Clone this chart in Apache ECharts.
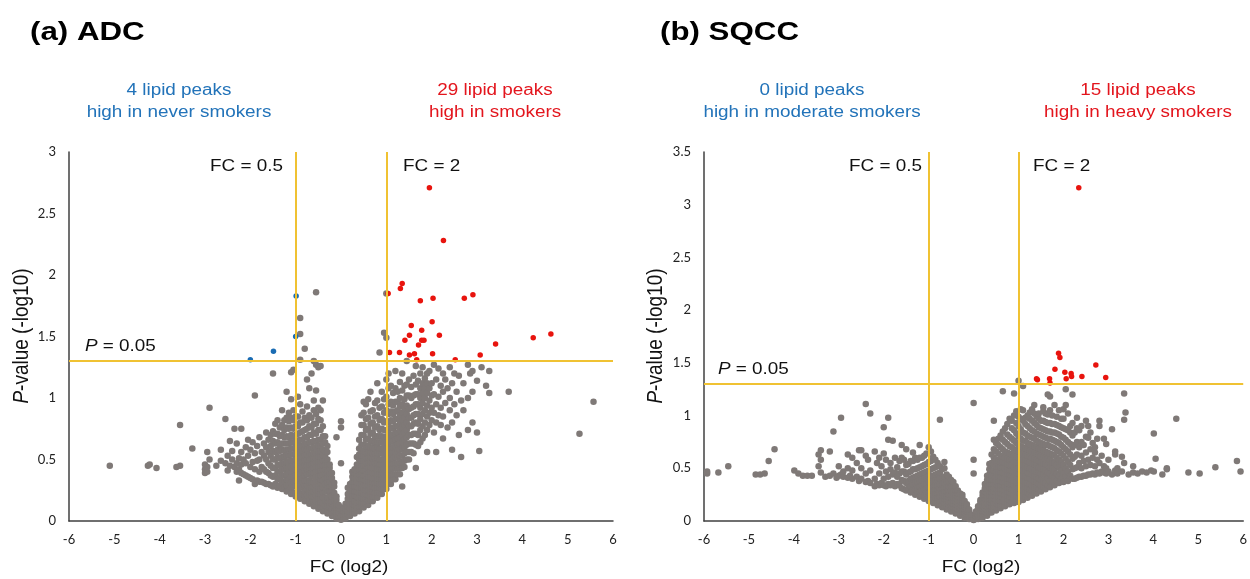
<!DOCTYPE html>
<html>
<head>
<meta charset="utf-8">
<script src="https://cdn.jsdelivr.net/npm/echarts@6/dist/echarts.min.js"></script>
<style>
  html, body { margin: 0; padding: 0; background: #ffffff; }
  #chart { width: 1250px; height: 579px; }
</style>
</head>
<body>
<div id="chart"></div>
<script>
// ---- Volcano plot data: FC (log2) vs P-value (-log10) ----

// Axis ticks
const xTicks = [-6, -5, -4, -3, -2, -1, 0, 1, 2, 3, 4, 5, 6];
const yMaxA = 3;
const yMaxB = 3.5;

// Cut-offs: FC = 0.5 / FC = 2 (log2 = -1 / 1) and P = 0.05
const fcCuts = [-1, 1];
const pCut = 1.301;

// (a) ADC: lipid peaks high in smokers (29)
const redA = [
  [1.95, 2.71], [2.26, 2.28], [1.35, 1.93], [1.31, 1.89], [1.04, 1.85], [2.03, 1.81],
  [1.75, 1.79], [2.72, 1.81], [2.91, 1.84], [2.01, 1.62], [1.55, 1.59], [1.78, 1.55],
  [1.51, 1.51], [2.17, 1.51], [1.41, 1.47], [1.78, 1.47], [1.83, 1.47], [1.71, 1.43],
  [3.41, 1.44], [4.24, 1.49], [4.63, 1.52], [1.07, 1.37], [1.29, 1.37], [1.51, 1.35],
  [1.62, 1.36], [2.02, 1.36], [1.67, 1.31], [2.52, 1.31], [3.07, 1.35]
];
// (a) ADC: lipid peaks high in never smokers (4)
const blueA = [[-0.99, 1.83], [-1.0, 1.50], [-1.49, 1.38], [-2.0, 1.31]];

// (a) ADC: remaining peaks, grouped by FC column -> list of P-values
const grayColsA = [
  [-5.10, [0.45]], [-4.26, [0.45]], [-4.22, [0.46]], [-4.07, [0.43]], [-3.63, [0.44]],
  [-3.55, [0.45, 0.78]], [-3.28, [0.59]], [-3.00, [0.39, 0.42, 0.46]], [-2.95, [0.4, 0.44, 0.56]],
  [-2.90, [0.5, 0.92]], [-2.75, [0.45]], [-2.65, [0.49, 0.58]], [-2.55, [0.47, 0.83]],
  [-2.50, [0.53, 0.41]], [-2.45, [0.45, 0.65]], [-2.40, [0.5, 0.57]], [-2.35, [0.44, 0.75]],
  [-2.30, [0.4, 0.47, 0.63]], [-2.25, [0.33, 0.42, 0.51]], [-2.20, [0.39, 0.46, 0.56, 0.75]],
  [-2.15, [0.38, 0.5]], [-2.10, [0.37, 0.47, 0.6]], [-2.05, [0.36, 0.53, 0.66]],
  [-2.00, [0.35, 0.44, 0.58]], [-1.95, [0.34, 0.48, 0.64]], [-1.90, [0.3, 0.42, 0.55, 1.02]],
  [-1.85, [0.33, 0.49, 0.61]], [-1.80, [0.32, 0.4, 0.5, 0.68]], [-1.75, [0.32, 0.44, 0.56]],
  [-1.70, [0.31, 0.42, 0.53, 0.63]], [-1.65, [0.3, 0.4, 0.5, 0.6, 0.72]], [-1.60, [0.3, 0.39, 0.47, 0.56, 0.66]],
  [-1.55, [0.29, 0.37, 0.45, 0.53, 0.61, 0.7]], [-1.50, [0.28, 0.36, 0.43, 0.5, 0.57, 0.65, 0.73, 1.2]],
  [-1.45, [0.3, 0.37, 0.43, 0.5, 0.56, 0.63, 0.71, 0.79]],
  [-1.40, [0.27, 0.34, 0.4, 0.46, 0.52, 0.58, 0.64, 0.71, 0.82]],
  [-1.35, [0.29, 0.35, 0.4, 0.45, 0.51, 0.57, 0.62, 0.69, 0.76]],
  [-1.30, [0.26, 0.31, 0.37, 0.42, 0.47, 0.52, 0.58, 0.63, 0.7, 0.78, 0.9]],
  [-1.25, [0.27, 0.32, 0.37, 0.42, 0.47, 0.52, 0.57, 0.63, 0.68, 0.74, 0.82]],
  [-1.20, [0.24, 0.29, 0.34, 0.38, 0.43, 0.48, 0.53, 0.58, 0.63, 0.69, 0.76, 0.84, 1.05]],
  [-1.15, [0.25, 0.3, 0.34, 0.39, 0.44, 0.48, 0.53, 0.58, 0.63, 0.68, 0.75, 0.81, 0.88]],
  [-1.10, [0.22, 0.27, 0.31, 0.36, 0.4, 0.44, 0.49, 0.54, 0.59, 0.64, 0.7, 0.76, 0.84, 0.99, 1.21]],
  [-1.05, [0.23, 0.28, 0.32, 0.36, 0.41, 0.45, 0.49, 0.54, 0.59, 0.64, 0.69, 0.75, 0.82, 0.9, 1.23]],
  [-1.00, [0.2, 0.23, 0.29, 0.33, 0.37, 0.42, 0.46, 0.5, 0.55, 0.6, 0.65, 0.7, 0.77, 0.85]],
  [-0.95, [0.21, 0.26, 0.29, 0.34, 0.38, 0.42, 0.47, 0.51, 0.55, 0.6, 0.65, 0.71, 0.77, 0.85, 1.01]],
  [-0.90, [0.18, 0.22, 0.27, 0.3, 0.35, 0.39, 0.43, 0.48, 0.52, 0.56, 0.61, 0.66, 0.72, 0.8, 0.95, 1.31, 1.52, 1.65]],
  [-0.85, [0.19, 0.22, 0.27, 0.32, 0.35, 0.4, 0.44, 0.48, 0.52, 0.57, 0.61, 0.66, 0.73, 0.8, 0.89]],
  [-0.80, [0.16, 0.21, 0.24, 0.29, 0.33, 0.37, 0.41, 0.45, 0.49, 0.53, 0.58, 0.62, 0.68, 0.74, 0.84, 1.4]],
  [-0.75, [0.17, 0.21, 0.26, 0.29, 0.33, 0.38, 0.42, 0.45, 0.5, 0.54, 0.58, 0.63, 0.68, 0.75, 0.82, 0.93, 1.15]],
  [-0.70, [0.14, 0.17, 0.22, 0.26, 0.31, 0.33, 0.38, 0.42, 0.46, 0.5, 0.54, 0.59, 0.64, 0.7, 0.77, 0.86, 1.08]],
  [-0.65, [0.15, 0.2, 0.23, 0.27, 0.31, 0.36, 0.39, 0.43, 0.46, 0.51, 0.54, 0.59, 0.64, 0.7, 0.76, 0.84, 1.2]],
  [-0.60, [0.12, 0.16, 0.2, 0.24, 0.28, 0.31, 0.36, 0.39, 0.43, 0.47, 0.51, 0.55, 0.6, 0.65, 0.72, 0.79, 0.9, 0.98, 1.3]],
  [-0.55, [0.13, 0.16, 0.21, 0.25, 0.29, 0.32, 0.36, 0.4, 0.44, 0.48, 0.51, 0.55, 0.6, 0.65, 0.71, 0.79, 0.87, 1.06, 1.27, 1.86]],
  [-0.50, [0.1, 0.15, 0.18, 0.22, 0.25, 0.28, 0.33, 0.36, 0.41, 0.44, 0.48, 0.52, 0.56, 0.61, 0.66, 0.74, 0.83, 0.92, 1.25]],
  [-0.45, [0.12, 0.15, 0.19, 0.22, 0.26, 0.31, 0.34, 0.37, 0.41, 0.45, 0.49, 0.52, 0.57, 0.61, 0.66, 0.74, 0.82, 0.9, 1.26]],
  [-0.40, [0.08, 0.12, 0.14, 0.19, 0.23, 0.27, 0.3, 0.33, 0.38, 0.42, 0.45, 0.49, 0.53, 0.58, 0.63, 0.69, 0.77, 0.98]],
  [-0.35, [0.09, 0.13, 0.17, 0.19, 0.24, 0.27, 0.3, 0.35, 0.39, 0.42, 0.46, 0.5, 0.53, 0.57, 0.64, 0.69]],
  [-0.30, [0.06, 0.08, 0.12, 0.17, 0.19, 0.24, 0.28, 0.31, 0.35, 0.39, 0.41, 0.46, 0.5, 0.56, 0.61]],
  [-0.25, [0.07, 0.11, 0.13, 0.17, 0.22, 0.25, 0.28, 0.32, 0.36, 0.39, 0.43, 0.46]],
  [-0.20, [0.04, 0.06, 0.1, 0.14, 0.16, 0.2, 0.25, 0.28, 0.3, 0.35, 0.39]],
  [-0.15, [0.04, 0.08, 0.11, 0.13, 0.17, 0.21, 0.23, 0.28, 0.31]],
  [-0.10, [0.02, 0.05, 0.07, 0.11, 0.13, 0.17, 0.2, 0.68]],
  [-0.05, [0.02, 0.04, 0.07, 0.1, 0.13]],
  [0.00, [0.01, 0.04, 0.47, 0.76, 0.81]],
  [0.05, [0.02, 0.05, 0.08, 0.11]],
  [0.10, [0.02, 0.05, 0.08, 0.1, 0.14]],
  [0.15, [0.05, 0.08, 0.12, 0.15, 0.18, 0.22, 0.27]],
  [0.20, [0.04, 0.07, 0.1, 0.14, 0.18, 0.21, 0.25, 0.3]],
  [0.25, [0.07, 0.11, 0.14, 0.18, 0.21, 0.25, 0.29, 0.32, 0.36, 0.4]],
  [0.30, [0.06, 0.1, 0.13, 0.16, 0.21, 0.24, 0.28, 0.32, 0.35, 0.39, 0.42]],
  [0.35, [0.09, 0.13, 0.17, 0.2, 0.24, 0.28, 0.31, 0.35, 0.39, 0.43, 0.46, 0.52]],
  [0.40, [0.08, 0.12, 0.16, 0.19, 0.23, 0.27, 0.31, 0.35, 0.38, 0.42, 0.46, 0.5, 0.54, 0.59, 0.66]],
  [0.45, [0.12, 0.15, 0.19, 0.23, 0.27, 0.3, 0.34, 0.38, 0.42, 0.46, 0.49, 0.53, 0.57, 0.62, 0.7, 0.78, 0.86]],
  [0.50, [0.11, 0.14, 0.18, 0.22, 0.26, 0.3, 0.34, 0.37, 0.41, 0.45, 0.49, 0.53, 0.57, 0.62, 0.7, 0.78, 0.88, 0.97]],
  [0.55, [0.14, 0.18, 0.22, 0.25, 0.29, 0.33, 0.37, 0.41, 0.45, 0.48, 0.52, 0.56, 0.61, 0.66, 0.74, 0.83, 0.95]],
  [0.60, [0.13, 0.17, 0.21, 0.25, 0.29, 0.33, 0.36, 0.4, 0.44, 0.48, 0.52, 0.56, 0.61, 0.67, 0.75, 0.84, 0.99]],
  [0.65, [0.17, 0.2, 0.24, 0.28, 0.32, 0.36, 0.4, 0.44, 0.48, 0.52, 0.56, 0.6, 0.65, 0.71, 0.79, 0.89, 1.05]],
  [0.70, [0.16, 0.2, 0.24, 0.28, 0.31, 0.35, 0.39, 0.43, 0.47, 0.51, 0.55, 0.6, 0.65, 0.72, 0.8, 0.9]],
  [0.75, [0.2, 0.23, 0.27, 0.31, 0.35, 0.39, 0.43, 0.47, 0.51, 0.55, 0.59, 0.64, 0.69, 0.76, 0.85, 0.96]],
  [0.80, [0.19, 0.23, 0.27, 0.31, 0.35, 0.39, 0.43, 0.47, 0.51, 0.55, 0.6, 0.64, 0.69, 0.77, 0.86, 0.98, 1.12]],
  [0.85, [0.23, 0.27, 0.3, 0.34, 0.38, 0.42, 0.46, 0.5, 0.55, 0.59, 0.64, 0.69, 0.74, 0.82, 0.92, 1.37]],
  [0.90, [0.22, 0.26, 0.3, 0.34, 0.38, 0.42, 0.46, 0.5, 0.55, 0.59, 0.64, 0.69, 0.75, 0.83, 0.93, 1.05]],
  [0.95, [0.26, 0.3, 0.34, 0.38, 0.42, 0.46, 0.5, 0.54, 0.59, 0.63, 0.68, 0.74, 0.8, 0.88, 0.99, 1.53]],
  [1.00, [0.26, 0.3, 0.34, 0.38, 0.42, 0.46, 0.5, 0.55, 0.59, 0.64, 0.69, 0.74, 0.81, 0.9, 1.01, 1.15, 1.49, 1.85]],
  [1.05, [0.3, 0.34, 0.38, 0.42, 0.46, 0.5, 0.55, 0.59, 0.64, 0.69, 0.74, 0.8, 0.87, 0.95, 1.08, 1.2]],
  [1.10, [0.3, 0.34, 0.38, 0.42, 0.47, 0.51, 0.55, 0.6, 0.65, 0.7, 0.76, 0.82, 0.89, 0.97, 1.1]],
  [1.15, [0.34, 0.38, 0.43, 0.47, 0.51, 0.56, 0.6, 0.65, 0.7, 0.75, 0.81, 0.87, 0.94, 1.04]],
  [1.20, [0.34, 0.38, 0.43, 0.47, 0.52, 0.56, 0.61, 0.66, 0.71, 0.77, 0.83, 0.89, 0.97, 1.08, 1.22]],
  [1.25, [0.38, 0.43, 0.47, 0.52, 0.57, 0.62, 0.67, 0.72, 0.77, 0.83, 0.9, 0.97, 1.05]],
  [1.30, [0.38, 0.43, 0.48, 0.53, 0.58, 0.63, 0.68, 0.74, 0.8, 0.86, 0.93, 1.0, 1.13]],
  [1.35, [0.28, 0.43, 0.48, 0.53, 0.59, 0.64, 0.7, 0.76, 0.82, 0.88, 0.95, 1.06, 1.2]],
  [1.40, [0.44, 0.49, 0.55, 0.6, 0.66, 0.72, 0.78, 0.84, 0.91, 0.99, 1.1]],
  [1.45, [0.5, 0.56, 0.62, 0.68, 0.74, 0.8, 0.87, 0.94, 1.02, 1.11, 1.3]],
  [1.50, [0.5, 0.56, 0.63, 0.7, 0.77, 0.84, 0.91, 1.02, 1.15]],
  [1.55, [0.56, 0.63, 0.7, 0.77, 0.84, 0.92, 1.0, 1.09]],
  [1.60, [0.55, 0.63, 0.71, 0.79, 0.86, 0.93, 1.02, 1.18]],
  [1.65, [0.43, 0.62, 0.71, 0.8, 0.87, 0.95, 1.03, 1.11, 1.26]],
  [1.70, [0.61, 0.7, 0.79, 0.87, 0.95, 1.03, 1.14]],
  [1.75, [0.64, 0.74, 0.83, 0.92, 1.0, 1.08, 1.2]],
  [1.80, [0.67, 0.77, 0.87, 0.96, 1.04, 1.12, 1.25]],
  [1.85, [0.7, 0.8, 0.9, 1.0, 1.08, 1.16]],
  [1.90, [0.56, 0.74, 0.85, 0.94, 1.04, 1.12, 1.2]],
  [1.95, [0.78, 0.88, 0.98, 1.08, 1.22]],
  [2.00, [0.82, 0.92, 1.02, 1.12]],
  [2.05, [0.72, 0.88, 1.03, 1.27]],
  [2.10, [0.56, 0.8, 0.95, 1.15]],
  [2.15, [0.86, 1.01, 1.24]],
  [2.20, [0.78, 0.92, 1.1]],
  [2.25, [0.67, 0.85, 1.05, 1.2]],
  [2.30, [0.96, 1.15]],
  [2.35, [0.76, 1.08]],
  [2.40, [0.9, 1.0, 1.25]],
  [2.45, [0.58, 0.8, 1.12]],
  [2.50, [0.95, 1.2]],
  [2.55, [0.86, 1.05]],
  [2.60, [0.7, 1.18]],
  [2.65, [0.52, 0.98]],
  [2.70, [0.9, 1.12]],
  [2.80, [0.74, 1.0, 1.27]],
  [2.85, [1.2]],
  [2.90, [0.8, 1.05, 1.22]],
  [3.00, [0.72, 1.14]],
  [3.05, [0.57]],
  [3.10, [1.25]],
  [3.20, [1.1]],
  [3.27, [1.04, 1.22]],
  [3.70, [1.05]],
  [5.26, [0.71]],
  [5.57, [0.97]]
];

// (b) SQCC: lipid peaks high in heavy smokers (15)
const redB = [
  [2.34, 3.16], [1.89, 1.59], [1.92, 1.55], [2.72, 1.48], [1.81, 1.44], [2.03, 1.41],
  [2.17, 1.40], [2.18, 1.37], [2.06, 1.35], [2.41, 1.37], [2.94, 1.36], [1.40, 1.35],
  [1.42, 1.34], [1.69, 1.35], [1.70, 1.31]
];
// (b) SQCC: lipid peaks high in moderate smokers (none)
const blueB = [];

// (b) SQCC: remaining peaks, grouped by FC column -> list of P-values
const grayColsB = [
  [-5.93, [0.45, 0.47]], [-5.68, [0.46]], [-5.46, [0.52]], [-4.85, [0.44]], [-4.75, [0.44]],
  [-4.65, [0.45]], [-4.56, [0.57]], [-4.43, [0.68]], [-3.99, [0.48]], [-3.90, [0.45]],
  [-3.80, [0.43]], [-3.70, [0.43]], [-3.60, [0.43]], [-3.45, [0.52, 0.63]], [-3.40, [0.46, 0.58, 0.67]],
  [-3.30, [0.42]], [-3.20, [0.43, 0.66]], [-3.12, [0.45, 0.85]], [-3.05, [0.41]], [-3.00, [0.43, 0.52]],
  [-2.95, [0.44, 0.98]], [-2.90, [0.42, 0.47]], [-2.80, [0.41, 0.5, 0.63]], [-2.75, [0.43]],
  [-2.70, [0.4, 0.48, 0.6]], [-2.60, [0.42, 0.55]], [-2.55, [0.38, 0.67]], [-2.50, [0.4, 0.5, 0.67]],
  [-2.40, [0.37, 0.45, 0.62, 1.11]], [-2.35, [0.38, 0.58]], [-2.30, [0.36, 0.48, 1.02]],
  [-2.20, [0.33, 0.4, 0.66]], [-2.15, [0.35, 0.55]], [-2.10, [0.34, 0.45, 0.6]], [-2.05, [0.36, 0.52]],
  [-2.00, [0.34, 0.4, 0.64, 0.89]], [-1.95, [0.33, 0.47, 0.58]], [-1.90, [0.35, 0.42, 0.77, 0.98]],
  [-1.85, [0.34, 0.49, 0.55]], [-1.80, [0.36, 0.44, 0.76]], [-1.75, [0.33, 0.46, 0.6]],
  [-1.70, [0.35, 0.42, 0.51]], [-1.65, [0.34, 0.45, 0.57]], [-1.60, [0.31, 0.39, 0.47, 0.6, 0.72]],
  [-1.55, [0.3, 0.38, 0.47, 0.58]], [-1.50, [0.29, 0.36, 0.44, 0.53, 0.68]], [-1.45, [0.31, 0.38, 0.46, 0.54]],
  [-1.40, [0.27, 0.33, 0.4, 0.47, 0.57]], [-1.35, [0.29, 0.35, 0.41, 0.49, 0.57, 0.65]],
  [-1.30, [0.25, 0.3, 0.36, 0.42, 0.49, 0.6]], [-1.25, [0.26, 0.31, 0.37, 0.43, 0.5, 0.58]],
  [-1.20, [0.23, 0.28, 0.33, 0.38, 0.44, 0.51, 0.6, 0.72]], [-1.15, [0.24, 0.29, 0.34, 0.39, 0.45, 0.52, 0.6]],
  [-1.10, [0.21, 0.25, 0.3, 0.35, 0.4, 0.46, 0.53, 0.62]], [-1.05, [0.22, 0.26, 0.31, 0.35, 0.41, 0.47, 0.54, 0.64]],
  [-1.00, [0.19, 0.23, 0.27, 0.32, 0.37, 0.42, 0.48, 0.56, 0.7]],
  [-0.95, [0.2, 0.24, 0.28, 0.33, 0.37, 0.43, 0.49, 0.57, 0.66]],
  [-0.90, [0.17, 0.21, 0.25, 0.29, 0.33, 0.38, 0.43, 0.5, 0.61]],
  [-0.85, [0.18, 0.22, 0.26, 0.3, 0.34, 0.39, 0.44, 0.51, 0.58]],
  [-0.80, [0.15, 0.19, 0.22, 0.26, 0.3, 0.34, 0.39, 0.45, 0.55]],
  [-0.75, [0.16, 0.19, 0.23, 0.27, 0.31, 0.35, 0.4, 0.46, 0.52, 0.96]],
  [-0.70, [0.13, 0.16, 0.2, 0.24, 0.27, 0.31, 0.35, 0.41, 0.49]],
  [-0.65, [0.14, 0.17, 0.21, 0.24, 0.28, 0.32, 0.36, 0.42, 0.5, 0.56]],
  [-0.60, [0.11, 0.14, 0.18, 0.21, 0.24, 0.28, 0.32, 0.37, 0.44]],
  [-0.55, [0.12, 0.15, 0.18, 0.22, 0.25, 0.29, 0.33, 0.38, 0.42]],
  [-0.50, [0.09, 0.12, 0.15, 0.18, 0.22, 0.25, 0.29, 0.33, 0.39]],
  [-0.45, [0.1, 0.13, 0.16, 0.19, 0.22, 0.26, 0.29, 0.33, 0.37]],
  [-0.40, [0.07, 0.1, 0.13, 0.16, 0.19, 0.22, 0.25, 0.29, 0.33]],
  [-0.35, [0.08, 0.11, 0.14, 0.17, 0.2, 0.23, 0.26, 0.29]],
  [-0.30, [0.05, 0.08, 0.11, 0.13, 0.16, 0.19, 0.22, 0.26]],
  [-0.25, [0.06, 0.09, 0.11, 0.14, 0.17, 0.2, 0.22, 0.25]],
  [-0.20, [0.03, 0.06, 0.08, 0.11, 0.14, 0.17, 0.19]],
  [-0.15, [0.04, 0.06, 0.09, 0.11, 0.14, 0.16]],
  [-0.10, [0.02, 0.04, 0.06, 0.09, 0.11]],
  [-0.05, [0.02, 0.04, 0.06]],
  [0.00, [0.01, 0.45, 0.58, 1.12]],
  [0.05, [0.02, 0.04, 0.07, 0.09]],
  [0.10, [0.02, 0.04, 0.06, 0.09, 0.12, 0.14]],
  [0.15, [0.04, 0.07, 0.09, 0.12, 0.15, 0.18, 0.2]],
  [0.20, [0.03, 0.06, 0.09, 0.12, 0.15, 0.18, 0.21, 0.24, 0.27]],
  [0.25, [0.06, 0.09, 0.12, 0.15, 0.18, 0.21, 0.24, 0.28, 0.31, 0.35]],
  [0.30, [0.05, 0.08, 0.11, 0.14, 0.17, 0.21, 0.24, 0.27, 0.31, 0.35, 0.39, 0.43]],
  [0.35, [0.08, 0.11, 0.14, 0.18, 0.21, 0.24, 0.28, 0.31, 0.35, 0.39, 0.44, 0.49, 0.54]],
  [0.40, [0.08, 0.11, 0.14, 0.17, 0.2, 0.24, 0.27, 0.31, 0.35, 0.39, 0.43, 0.48, 0.55, 0.63]],
  [0.45, [0.11, 0.14, 0.17, 0.21, 0.24, 0.28, 0.31, 0.35, 0.39, 0.43, 0.48, 0.53, 0.6, 0.68, 0.77, 0.95]],
  [0.50, [0.1, 0.13, 0.17, 0.2, 0.24, 0.27, 0.31, 0.35, 0.38, 0.42, 0.47, 0.52, 0.58, 0.66, 0.74]],
  [0.55, [0.13, 0.16, 0.2, 0.23, 0.27, 0.31, 0.34, 0.38, 0.42, 0.47, 0.52, 0.57, 0.64, 0.72, 0.78]],
  [0.60, [0.12, 0.15, 0.19, 0.23, 0.26, 0.3, 0.34, 0.38, 0.42, 0.46, 0.51, 0.56, 0.62, 0.7, 0.81]],
  [0.65, [0.15, 0.19, 0.22, 0.26, 0.3, 0.34, 0.37, 0.41, 0.46, 0.51, 0.56, 0.61, 0.68, 0.77, 0.85, 1.23]],
  [0.70, [0.14, 0.18, 0.21, 0.25, 0.29, 0.33, 0.37, 0.41, 0.45, 0.5, 0.55, 0.6, 0.66, 0.75, 0.88]],
  [0.75, [0.17, 0.21, 0.24, 0.28, 0.32, 0.36, 0.4, 0.45, 0.49, 0.54, 0.59, 0.65, 0.73, 0.82, 0.92]],
  [0.80, [0.16, 0.2, 0.23, 0.27, 0.31, 0.35, 0.4, 0.44, 0.48, 0.53, 0.58, 0.64, 0.71, 0.8, 0.97]],
  [0.85, [0.18, 0.22, 0.26, 0.3, 0.35, 0.39, 0.43, 0.48, 0.53, 0.58, 0.63, 0.7, 0.78, 0.88, 0.95]],
  [0.90, [0.17, 0.21, 0.25, 0.29, 0.34, 0.38, 0.42, 0.47, 0.51, 0.56, 0.62, 0.68, 0.76, 0.86, 1.0, 1.21]],
  [0.95, [0.19, 0.24, 0.28, 0.33, 0.37, 0.42, 0.46, 0.51, 0.56, 0.61, 0.67, 0.74, 0.83, 0.93, 1.04]],
  [1.00, [0.18, 0.22, 0.27, 0.31, 0.36, 0.4, 0.45, 0.5, 0.55, 0.6, 0.66, 0.72, 0.8, 0.9, 0.99, 1.33]],
  [1.05, [0.21, 0.26, 0.3, 0.35, 0.4, 0.44, 0.49, 0.54, 0.59, 0.65, 0.71, 0.78, 0.87, 0.97, 1.06]],
  [1.10, [0.2, 0.24, 0.29, 0.34, 0.38, 0.43, 0.48, 0.53, 0.58, 0.64, 0.7, 0.76, 0.84, 0.95, 1.05, 1.28]],
  [1.15, [0.23, 0.28, 0.33, 0.38, 0.43, 0.48, 0.53, 0.58, 0.63, 0.69, 0.76, 0.83, 0.92, 0.98]],
  [1.20, [0.22, 0.27, 0.31, 0.36, 0.41, 0.46, 0.51, 0.57, 0.62, 0.68, 0.74, 0.81, 0.9, 1.0]],
  [1.25, [0.25, 0.3, 0.35, 0.4, 0.45, 0.5, 0.56, 0.61, 0.67, 0.73, 0.8, 0.88, 0.97, 1.03]],
  [1.30, [0.24, 0.29, 0.34, 0.39, 0.44, 0.49, 0.55, 0.6, 0.66, 0.72, 0.79, 0.86, 0.95, 1.06]],
  [1.35, [0.27, 0.32, 0.38, 0.43, 0.48, 0.54, 0.59, 0.65, 0.71, 0.78, 0.85, 0.93, 1.02, 1.1]],
  [1.40, [0.26, 0.31, 0.37, 0.42, 0.47, 0.53, 0.58, 0.64, 0.7, 0.76, 0.83, 0.91, 0.99]],
  [1.45, [0.3, 0.35, 0.4, 0.46, 0.51, 0.57, 0.63, 0.69, 0.75, 0.82, 0.89, 0.97, 1.02]],
  [1.50, [0.28, 0.34, 0.39, 0.45, 0.5, 0.56, 0.62, 0.68, 0.74, 0.81, 0.88, 0.95]],
  [1.55, [0.32, 0.38, 0.44, 0.49, 0.55, 0.61, 0.67, 0.73, 0.8, 0.87, 0.95, 1.04, 1.08]],
  [1.60, [0.3, 0.36, 0.42, 0.48, 0.54, 0.6, 0.66, 0.72, 0.79, 0.86, 0.94, 1.02]],
  [1.65, [0.34, 0.4, 0.46, 0.53, 0.59, 0.65, 0.72, 0.78, 0.85, 0.93, 1.01, 1.2]],
  [1.70, [0.32, 0.38, 0.45, 0.51, 0.58, 0.64, 0.71, 0.78, 0.85, 0.93, 1.05, 1.18]],
  [1.75, [0.36, 0.43, 0.5, 0.56, 0.63, 0.7, 0.77, 0.84, 0.92, 1.0]],
  [1.80, [0.34, 0.41, 0.48, 0.55, 0.62, 0.69, 0.76, 0.84, 0.92, 1.1]],
  [1.85, [0.38, 0.45, 0.53, 0.6, 0.67, 0.75, 0.83, 0.91, 0.99]],
  [1.90, [0.36, 0.43, 0.51, 0.58, 0.66, 0.74, 0.82, 0.9, 1.05]],
  [1.95, [0.4, 0.48, 0.56, 0.64, 0.72, 0.8, 0.89, 0.97]],
  [2.00, [0.37, 0.45, 0.53, 0.62, 0.7, 0.79, 0.88, 0.97, 1.06]],
  [2.05, [0.42, 0.5, 0.59, 0.68, 0.77, 0.87, 1.1, 1.25]],
  [2.10, [0.38, 0.47, 0.56, 0.66, 0.75, 0.86, 1.02]],
  [2.15, [0.43, 0.53, 0.63, 0.73, 0.84, 0.9]],
  [2.20, [0.4, 0.49, 0.59, 0.7, 0.81, 0.93, 1.2]],
  [2.25, [0.4, 0.5, 0.61, 0.72, 0.84]],
  [2.30, [0.41, 0.51, 0.63, 0.75, 0.88, 0.98]],
  [2.35, [0.42, 0.55, 0.7, 0.86]],
  [2.40, [0.42, 0.5, 0.62, 0.75, 0.9]],
  [2.45, [0.43, 0.57, 0.72]],
  [2.50, [0.43, 0.52, 0.65, 0.8, 0.95]],
  [2.55, [0.44, 0.58, 0.79, 0.9]],
  [2.60, [0.44, 0.53, 0.68, 0.84]],
  [2.65, [0.45, 0.6, 0.74]],
  [2.70, [0.44, 0.52, 0.65, 0.7]],
  [2.75, [0.46, 0.58, 0.78]],
  [2.80, [0.45, 0.55, 0.9, 0.95]],
  [2.85, [0.47, 0.62]],
  [2.90, [0.46, 0.52, 0.78]],
  [2.95, [0.45, 0.5, 0.73]],
  [3.00, [0.47, 0.58]],
  [3.08, [0.44, 0.87]],
  [3.15, [0.48, 0.63, 0.66]],
  [3.20, [0.45, 0.5]],
  [3.30, [0.47, 0.61]],
  [3.35, [0.55, 0.96, 1.21]],
  [3.38, [1.03]],
  [3.45, [0.44]],
  [3.55, [0.46, 0.52]],
  [3.65, [0.45]],
  [3.75, [0.47]],
  [3.85, [0.46]],
  [3.95, [0.48]],
  [4.01, [0.47, 0.83]],
  [4.05, [0.59]],
  [4.20, [0.44]],
  [4.30, [0.49, 0.5]],
  [4.51, [0.97]],
  [4.78, [0.46]],
  [5.03, [0.45]],
  [5.38, [0.51]],
  [5.86, [0.57]],
  [5.94, [0.47]]
];

// ---- Styling ----
const GRAY = '#7f7977';
const RED_DOT = '#e8140e';
const BLUE_DOT = '#1a6cb3';
const RED_TXT = '#e3151d';
const BLUE_TXT = '#2273b9';
const GOLD = '#f0c232';
const AXIS = '#404040';
const SANS = "'Liberation Sans', Arial, sans-serif";
const TICK_FONT = "Lato, 'Open Sans', sans-serif";
const WIDE = 1.18; // horizontal stretch of the lettering

function expandCols(cols) {
  const pts = [];
  cols.forEach(([fc, ps]) => ps.forEach(p => pts.push([fc, p])));
  return pts;
}

function xAxisCfg(gridIndex) {
  return {
    type: 'value', gridIndex, min: xTicks[0], max: xTicks[xTicks.length - 1], interval: 1,
    splitLine: { show: false },
    axisTick: { show: false },
    axisLine: { onZero: false, lineStyle: { color: AXIS, width: 1.5 } },
    axisLabel: { color: '#222', fontFamily: TICK_FONT, fontSize: 13, margin: 12 }
  };
}
function yAxisCfg(gridIndex, max) {
  return {
    type: 'value', gridIndex, min: 0, max, interval: 0.5,
    splitLine: { show: false },
    axisTick: { show: false },
    axisLine: { show: true, onZero: false, lineStyle: { color: AXIS, width: 1.5 } },
    axisLabel: { color: '#222', fontFamily: TICK_FONT, fontSize: 13, margin: 13 }
  };
}

function grayPoints(idx, data) {
  return { type: 'scatter', xAxisIndex: idx, yAxisIndex: idx, data, symbolSize: 6.5,
    itemStyle: { color: GRAY, opacity: 1 }, z: 2, silent: true };
}
function cutLines(idx) {
  return { type: 'scatter', xAxisIndex: idx, yAxisIndex: idx, data: [], z: 3, silent: true,
    markLine: {
      silent: true, symbol: ['none', 'none'], label: { show: false }, animation: false,
      lineStyle: { color: GOLD, width: 2, type: 'solid', opacity: 1 },
      data: [{ xAxis: fcCuts[0] }, { xAxis: fcCuts[1] }, { yAxis: pCut }]
    } };
}
function colouredPoints(idx, data, color) {
  return { type: 'scatter', xAxisIndex: idx, yAxisIndex: idx, data, symbolSize: 5.5,
    itemStyle: { color, opacity: 1 }, z: 4, silent: true };
}

// Stretched horizontal lettering
function label(x, y, text, size, color, align, opts) {
  opts = opts || {};
  return {
    type: 'text', x, y, scaleX: WIDE, z: 10, silent: true,
    style: Object.assign({
      text, fill: color, fontFamily: SANS, fontSize: size,
      fontWeight: opts.bold ? 'bold' : 'normal',
      align, verticalAlign: 'middle'
    }, opts.rich ? { rich: opts.rich } : {})
  };
}
const italicRich = (size) => ({
  i: { fontStyle: 'italic', fontFamily: SANS, fontSize: size, fill: '#111' },
  n: { fontFamily: SANS, fontSize: size, fill: '#111' }
});
function yName(x, y) {
  return {
    type: 'text', x, y, rotation: Math.PI / 2, scaleY: WIDE, z: 10, silent: true,
    style: {
      text: '{i|P}{n|-value (-log10)}', align: 'center', verticalAlign: 'middle',
      rich: italicRich(19)
    }
  };
}

const chart = echarts.init(document.getElementById('chart'), null, { renderer: 'canvas' });
chart.setOption({
  animation: false,
  backgroundColor: '#ffffff',
  grid: [
    { left: 69, top: 152, width: 544, height: 369 },
    { left: 704, top: 152, width: 545, height: 369 }
  ],
  xAxis: [xAxisCfg(0), xAxisCfg(1)],
  yAxis: [yAxisCfg(0, yMaxA), yAxisCfg(1, yMaxB)],
  series: [
    grayPoints(0, expandCols(grayColsA)),
    cutLines(0),
    colouredPoints(0, blueA, BLUE_DOT),
    colouredPoints(0, redA, RED_DOT),
    grayPoints(1, expandCols(grayColsB)),
    cutLines(1),
    colouredPoints(1, blueB, BLUE_DOT),
    colouredPoints(1, redB, RED_DOT)
  ],
  graphic: [
    // panel titles
    label(30, 33, '(a) ADC', 26.5, '#000', 'left', { bold: true }),
    label(660, 33, '(b) SQCC', 26.5, '#000', 'left', { bold: true }),
    // group counts
    label(179, 91, '4 lipid peaks', 16, BLUE_TXT, 'center'),
    label(179, 113, 'high in never smokers', 16, BLUE_TXT, 'center'),
    label(495, 91, '29 lipid peaks', 16, RED_TXT, 'center'),
    label(495, 113, 'high in smokers', 16, RED_TXT, 'center'),
    label(812, 91, '0 lipid peaks', 16, BLUE_TXT, 'center'),
    label(812, 113, 'high in moderate smokers', 16, BLUE_TXT, 'center'),
    label(1138, 91, '15 lipid peaks', 16, RED_TXT, 'center'),
    label(1138, 113, 'high in heavy smokers', 16, RED_TXT, 'center'),
    // cut-off annotations
    label(283, 167, 'FC = 0.5', 16, '#111', 'right'),
    label(403, 167, 'FC = 2', 16, '#111', 'left'),
    label(85, 347, '{i|P}{n| = 0.05}', 16, '#111', 'left', { rich: italicRich(16) }),
    label(922, 167, 'FC = 0.5', 16, '#111', 'right'),
    label(1033, 167, 'FC = 2', 16, '#111', 'left'),
    label(718, 370, '{i|P}{n| = 0.05}', 16, '#111', 'left', { rich: italicRich(16) }),
    // axis titles
    label(349, 568, 'FC (log2)', 16, '#111', 'center'),
    label(981, 568, 'FC (log2)', 16, '#111', 'center'),
    yName(22, 336),
    yName(656, 336)
  ]
});
</script>
</body>
</html>
